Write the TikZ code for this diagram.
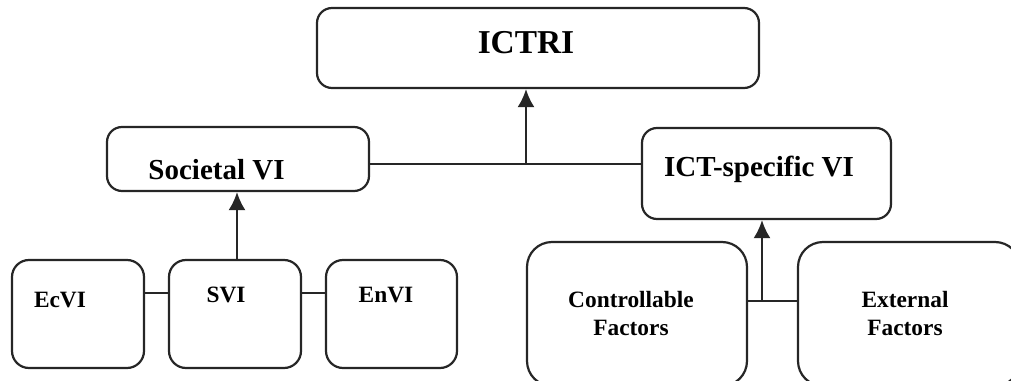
\documentclass[tikz,border=0pt]{standalone}
\usepackage{fontspec}
\setmainfont{Liberation Serif}
\usepackage{tikz}
\usetikzlibrary{arrows.meta}
\tikzset{%
  >={Latex[width=3.4mm,length=3.6mm]},
  % Specifications for style of nodes:
         base/.style = {rectangle, rounded corners=3mm, draw=black!85,
                        line width=1.25pt, inner sep=0pt},
          top/.style = {base, minimum width=8.84cm, minimum height=1.6cm},
          mid/.style = {base, minimum height=1.28cm},
        small/.style = {base, rounded corners=3.4mm, minimum width=2.64cm,
                        minimum height=2.16cm},
       factor/.style = {base, rounded corners=5mm, minimum width=4.42cm,
                        minimum height=2.88cm},
     toptext/.style = {anchor=base, font=\fontsize{19}{22}\selectfont\bfseries},
     midtext/.style = {anchor=base, font=\fontsize{16.5}{19}\selectfont\bfseries},
     lowtext/.style = {align=center, font=\fontsize{13.3}{15.4}\selectfont\bfseries},
        link/.style = {draw=black!85, line width=1.25pt}
}
\begin{document}
\begin{tikzpicture}
  \useasboundingbox (0,0) rectangle (20.22,-7.62);
  \clip (0,0) rectangle (20.22,-7.62);
  % Specification of nodes (position, etc.)
  \node (ictri)  [top]                                at (10.76,-0.96) {};
  \node (soc)    [mid, minimum width=5.24cm]          at (4.76,-3.18)  {};
  \node (ict)    [mid, minimum width=4.98cm,
                  minimum height=1.82cm]              at (15.33,-3.47) {};
  \node (ecvi)   [small]                              at (1.56,-6.28)  {};
  \node (svi)    [small]                              at (4.70,-6.28)  {};
  \node (envi)   [small, minimum width=2.62cm]        at (7.83,-6.28)  {};
  \node (ctrl)   [factor, minimum width=4.4cm]        at (12.74,-6.28) {};
  \node (ext)    [factor, minimum width=4.44cm]       at (18.18,-6.28) {};

  % texts
  \node (ictrit) [toptext] at (10.52,-1.06) {ICTRI};
  \node (soct)   [midtext] at (4.33,-3.58)  {Societal VI};
  \node (ictt)   [midtext] at (15.18,-3.54) {ICT-specific VI};
  \node (ecvit)  [lowtext, anchor=base] at (1.20,-6.14) {EcVI};
  \node (svit)   [lowtext, anchor=base] at (4.52,-6.04) {SVI};
  \node (envit)  [lowtext, anchor=base] at (7.72,-6.04) {EnVI};
  \node (ctrlt)  [lowtext] at (12.62,-6.27) {Controllable\\Factors};
  \node (extt)   [lowtext] at (18.10,-6.27) {External\\Factors};

  % joints
  \coordinate (j1) at (10.52,-3.28);
  \coordinate (j2) at (4.74,-5.86);
  \coordinate (j3) at (15.24,-6.02);

  \draw[link] (soc.east |- j1) -- (ict.west |- j1);
  \draw[link,->] (j1) -- (ictri.south -| j1);

  \draw[link] (ecvi.east |- j2) -- (svi.west |- j2);
  \draw[link] (svi.east |- j2) -- (envi.west |- j2);
  \draw[link,->] (svi.north -| j2) -- (soc.south -| j2);

  \draw[link] (ctrl.east |- j3) -- (ext.west |- j3);
  \draw[link,->] (j3) -- (ict.south -| j3);
\end{tikzpicture}
\end{document}
